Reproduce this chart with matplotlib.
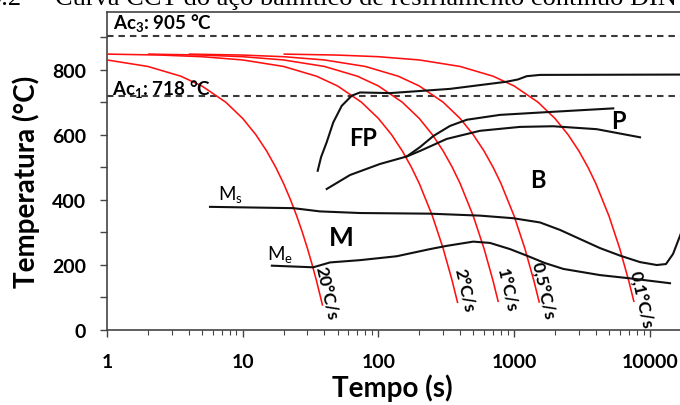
import numpy as np
import matplotlib
matplotlib.use("Agg")
import matplotlib.pyplot as plt
from matplotlib.ticker import FixedLocator, NullFormatter, FixedFormatter

plt.rcParams['font.family'] = ['Lato', 'DejaVu Sans']
plt.rcParams['mathtext.fontset'] = 'custom'
plt.rcParams['mathtext.rm'] = 'Lato'
plt.rcParams['mathtext.bf'] = 'Lato:bold'
plt.rcParams['mathtext.it'] = 'Lato'

# ---- data ----
ac3_temp = 905
ac1_temp = 718

# cooling curves (time s, temperature °C)
r20_t = [1, 2, 3.5, 5, 7.5, 10, 12.5, 15, 17.5, 20, 22.5, 25, 27.5, 30, 32.5, 35, 38.8]
r20_T = [830, 810, 780, 750, 700, 650, 600, 550, 500, 450, 400, 350, 300, 250, 200, 150, 74]
r2_t = [1, 2.5, 5, 10, 20, 35, 50, 75, 100, 125, 150, 175, 200, 250, 300, 350, 384]
r2_T = [848, 845, 840, 830, 810, 780, 750, 700, 650, 600, 550, 500, 450, 350, 250, 150, 82]
r1_t = [2, 5, 10, 20, 40, 70, 100, 150, 200, 250, 300, 350, 400, 500, 600, 700, 765]
r1_T = [848, 845, 840, 830, 810, 780, 750, 700, 650, 600, 550, 500, 450, 350, 250, 150, 85]
r05_t = [4, 10, 20, 40, 80, 140, 200, 300, 400, 500, 600, 700, 800, 1000, 1200, 1400, 1535]
r05_T = [848, 845, 840, 830, 810, 780, 750, 700, 650, 600, 550, 500, 450, 350, 250, 150, 83]
r01_t = [20, 50, 100, 200, 400, 700, 1000, 1500, 2000, 2500, 3000, 3500, 4000, 5000, 6000, 7000, 7650]
r01_T = [848, 845, 840, 830, 810, 780, 750, 700, 650, 600, 550, 500, 450, 350, 250, 150, 85]

rate_labels = ['20°C/s', '2°C/s', '1°C/s', '0,5°C/s', '0,1°C/s']

# transformation curves
fp_t = [35.7, 37.8, 41.6, 46.5, 53.7, 63.6, 73.2, 121.7, 337, 881, 1068, 1238, 1552, 16700]
fp_T = [489, 531, 577, 638, 689, 720, 730, 728, 741, 763, 770, 780, 784, 785]

bs_t = [41.6, 61.8, 102.8, 161.8]
bs_T = [433, 476, 510, 533]
ps_t = [161.8, 202.7, 254, 337, 448, 787, 1841, 5383]
ps_T = [533, 562, 596, 627, 646, 661, 670, 681]
pf_t = [161.8, 202.7, 318.7, 560.6, 1105, 1935, 4064, 8473]
pf_T = [533, 550, 587, 612, 624, 626, 617, 592]

ms_t = [5.74, 23.6, 37.1, 73.2, 240, 560, 986, 1552, 2180, 3060, 4300, 6030, 8470, 11250, 13160, 14830, 16700, 18500]
ms_T = [378, 374, 364, 359, 357, 351, 343, 330, 307, 279, 251, 228, 208, 199, 202, 233, 289, 340]

me_t = [16.4, 33.1, 44, 73.2, 136.4, 240, 319, 500, 664, 933, 1238, 1690, 2306, 4300, 7150, 14090]
me_T = [197, 192, 207, 214, 226, 248, 258, 271, 267, 248, 228, 205, 187, 168, 158, 143]

xticks = [1, 10, 100, 1000, 10000]
xtick_labels = ['1', '10', '100', '1000', '10000']
yticks = [0, 200, 400, 600, 800]

# ---- figure ----
W, H = 680, 406
fig = plt.figure(figsize=(W / 100, H / 100), dpi=100)
ax = fig.add_axes([107 / W, (H - 330.7) / H, (700 - 107) / W, (330.7 - 12.7) / H])
ax.set_xscale('log')
ax.set_xlim(1, 10 ** (593 / 135.7))
ax.set_ylim(0, (330.7 - 12.7) / 0.325)

red = '#ff1010'
for t, T in [(r20_t, r20_T), (r2_t, r2_T), (r1_t, r1_T), (r05_t, r05_T), (r01_t, r01_T)]:
    ax.plot(t, T, color=red, lw=1.15, solid_capstyle='butt', solid_joinstyle='round', zorder=3)

dash_col = '#3a3a3a'
ax.axhline(ac3_temp, color=dash_col, lw=1.5, dashes=(3.1, 2.4), zorder=2)
ax.axhline(ac1_temp, color=dash_col, lw=1.5, dashes=(3.1, 2.4), zorder=2)

blk = '#111111'
for t, T in [(fp_t, fp_T), (bs_t + ps_t[1:], bs_T + ps_T[1:]), (pf_t, pf_T), (ms_t, ms_T), (me_t, me_T)]:
    ax.plot(t, T, color=blk, lw=1.5, solid_joinstyle='round', zorder=4)

# spines & ticks
spc = '#444444'
for s in ['left', 'bottom', 'top']:
    ax.spines[s].set_color(spc)
    ax.spines[s].set_linewidth(1.2)
ax.spines['right'].set_visible(False)

ax.xaxis.set_major_locator(FixedLocator(xticks))
ax.xaxis.set_major_formatter(FixedFormatter(xtick_labels))
minors = [m * 10 ** d for d in range(0, 5) for m in range(2, 10)]
ax.xaxis.set_minor_locator(FixedLocator(minors))
ax.xaxis.set_minor_formatter(NullFormatter())
ax.yaxis.set_major_locator(FixedLocator(yticks))
ax.yaxis.set_minor_locator(FixedLocator([100, 300, 500, 700, 900]))
ax.yaxis.set_minor_formatter(NullFormatter())
ax.tick_params(axis='x', which='major', direction='out', length=5, width=1.0, color=spc, pad=12, labelsize=14)
ax.tick_params(axis='x', which='minor', direction='out', length=3.5, width=0.8, color=spc)
ax.tick_params(axis='y', which='both', direction='out', length=5, width=1.0, color=spc, pad=10, labelsize=14)
ax.tick_params(top=False, right=False, which='both')
for lab in ax.get_xticklabels() + ax.get_yticklabels():
    lab.set_fontweight('bold')

# axis labels
fig.text(392 / W, 1 - 388 / H, 'Tempo (s)', ha='center', va='center', fontsize=20, fontweight='bold')
fig.text(26 / W, 1 - 182 / H, 'Temperatura (°C)', ha='center', va='center', rotation=90,
         fontsize=20, fontweight='bold')

# region labels
ax.text(77.2, 590, 'FP', ha='center', va='center', fontsize=17, fontweight='bold')
ax.text(5866, 643, 'P', ha='center', va='center', fontsize=17, fontweight='bold')
ax.text(1500, 463, 'B', ha='center', va='center', fontsize=17, fontweight='bold')
ax.text(53.6, 286, 'M', ha='center', va='center', fontsize=19, fontweight='bold')
ax.text(6.58, 402, r'M$_\mathrm{s}$', ha='left', va='baseline', fontsize=13.5)
ax.text(15.2, 217, r'M$_\mathrm{e}$', ha='left', va='baseline', fontsize=13.5)
ax.text(1.1, 927, r'Ac$_\mathbf{3}$: 905 °C', ha='left', va='baseline', fontsize=13.5, fontweight='bold')
ax.text(1.08, 725, r'Ac$_\mathbf{1}$: 718 °C', ha='left', va='baseline', fontsize=13.5, fontweight='bold')

rate_pos = [(42.0, 115), (435, 125), (891, 125), (1642, 123), (8710, 94)]
for (x, y), lab in zip(rate_pos, rate_labels):
    ax.text(x, y, lab, ha='center', va='center', rotation=-77, rotation_mode='anchor',
            fontsize=12.5, fontweight='bold')

# cropped caption on top
base_y = 1 - 5 / H
cap = fig.text(55 / W, base_y, 'Curva CCT do aço bainítico de resfriamento contínuo DIN',
               ha='left', va='baseline', family='Liberation Serif', fontsize=16)
num = fig.text(21 / W, base_y, '9.2', ha='right', va='baseline', family='Liberation Serif', fontsize=16)
fig.canvas.draw()
bb = cap.get_window_extent()
scale = (676 - 55) / bb.width
cap.set_fontsize(16 * scale)
num.set_fontsize(16 * scale)

fig.savefig('out.png', dpi=100)
